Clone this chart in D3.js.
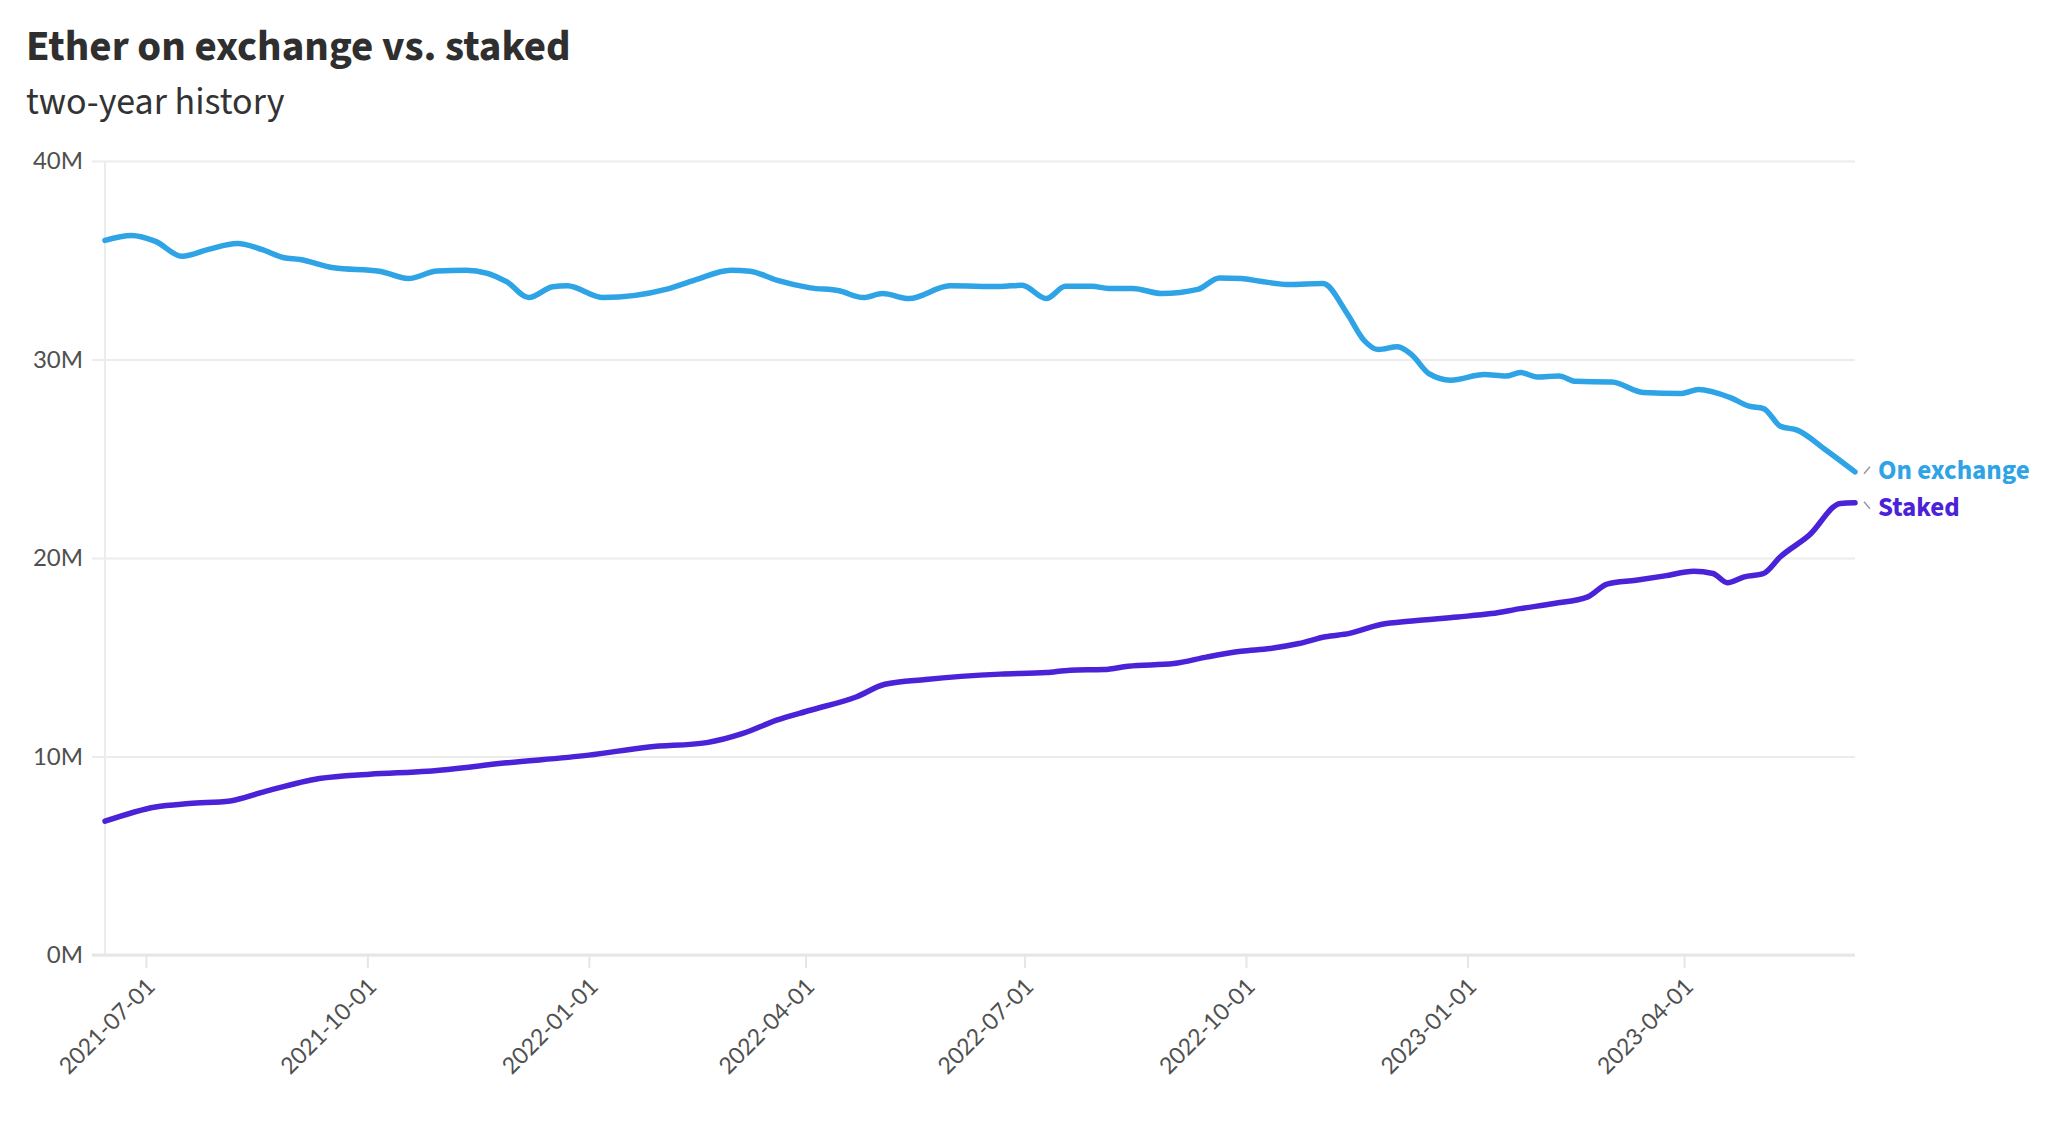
<!DOCTYPE html>
<html>
<head>
<meta charset="utf-8">
<script src="https://cdn.jsdelivr.net/npm/d3@7"></script>
<style>
  html, body { margin: 0; padding: 0; background: #fff; }
  svg { display: block; font-family: "Source Sans Pro", "Source Sans 3", Lato, sans-serif; }
</style>
</head>
<body>
<svg id="chart" width="2048" height="1132"></svg>
<script>
// ---- DATA ----
const titleText = "Ether on exchange vs. staked";
const subtitleText = "two-year history";
const seriesNames = ["On exchange", "Staked"];
const seriesColors = ["#2ea3e6", "#4a22d8"];

const exchangeDates = [
  "2021-06-14","2021-06-25","2021-07-05","2021-07-16","2021-07-27","2021-08-08","2021-08-18","2021-08-27",
  "2021-09-03","2021-09-17","2021-10-06","2021-10-18","2021-10-30","2021-11-11","2021-11-28","2021-12-07",
  "2021-12-17","2021-12-23","2022-01-07","2022-02-02","2022-02-14","2022-03-01","2022-03-09","2022-03-20",
  "2022-04-03","2022-04-15","2022-04-25","2022-05-03","2022-05-14","2022-05-31","2022-06-21","2022-06-30",
  "2022-07-10","2022-07-18","2022-07-29","2022-08-05","2022-08-15","2022-08-27","2022-09-11","2022-09-20",
  "2022-09-29","2022-10-07","2022-10-19","2022-11-02","2022-11-12","2022-11-19","2022-11-25","2022-12-03",
  "2022-12-09","2022-12-16","2022-12-25","2023-01-08","2023-01-17","2023-01-23","2023-01-30","2023-02-08",
  "2023-02-15","2023-03-02","2023-03-15","2023-03-31","2023-04-07","2023-04-20","2023-04-28","2023-05-04",
  "2023-05-11","2023-05-18","2023-05-30","2023-06-11"
];
const exchangeValues = [
  36.0, 36.25, 35.95, 35.2, 35.55, 35.84, 35.55, 35.14,
  35.04, 34.62, 34.45, 34.08, 34.46, 34.5, 33.91, 33.12,
  33.66, 33.71, 33.12, 33.53, 34.0, 34.5, 34.45, 34.0,
  33.61, 33.46, 33.12, 33.32, 33.07, 33.71, 33.68, 33.74,
  33.07, 33.69, 33.69, 33.58, 33.58, 33.32, 33.53, 34.11,
  34.08, 33.94, 33.78, 33.83, 32.32, 30.97, 30.5, 30.64,
  30.22, 29.29, 28.96, 29.24, 29.17, 29.34, 29.12, 29.17,
  28.9, 28.87, 28.34, 28.29, 28.49, 28.09, 27.65, 27.53,
  26.64, 26.44, 25.43, 24.34
];

const stakedDates = [
  "2021-06-14","2021-07-05","2021-07-19","2021-08-05","2021-08-19","2021-09-11","2021-10-02","2021-10-26",
  "2021-11-28","2022-01-01","2022-01-26","2022-02-19","2022-03-06","2022-03-20","2022-04-03","2022-04-22",
  "2022-05-04","2022-05-21","2022-06-21","2022-07-10","2022-07-20","2022-08-03","2022-08-13","2022-09-01",
  "2022-09-15","2022-09-29","2022-10-11","2022-10-23","2022-11-03","2022-11-13","2022-11-26","2022-12-09",
  "2022-12-28","2023-01-11","2023-01-23","2023-02-06","2023-02-20","2023-02-28","2023-03-12","2023-03-24",
  "2023-04-05","2023-04-13","2023-04-19","2023-04-26","2023-05-04","2023-05-11","2023-05-23","2023-06-05",
  "2023-06-11"
];
const stakedValues = [
  6.74, 7.46, 7.63, 7.76, 8.22, 8.89, 9.11, 9.26,
  9.68, 10.07, 10.48, 10.7, 11.16, 11.83, 12.33, 13.0,
  13.64, 13.88, 14.15, 14.23, 14.35, 14.38, 14.55, 14.68,
  15.02, 15.3, 15.44, 15.69, 16.03, 16.2, 16.65, 16.83,
  17.03, 17.2, 17.45, 17.71, 18.04, 18.68, 18.88, 19.1,
  19.33, 19.22, 18.75, 19.05, 19.22, 20.06, 21.15, 22.75,
  22.78
];

const yTickValues = [0, 10, 20, 30, 40];
const xTickLabels = ["2021-07-01","2021-10-01","2022-01-01","2022-04-01","2022-07-01","2022-10-01","2023-01-01","2023-04-01"];
const xDomain = ["2021-06-14", "2023-06-11"];
const yDomain = [0, 40];

// ---- DRAW ----
const parse = d3.utcParse("%Y-%m-%d");
const svg = d3.select("#chart");
svg.append("rect").attr("width", 2048).attr("height", 1132).attr("fill", "#fff");

const plot = { left: 105, right: 1855, top: 161, bottom: 955 };

const x = d3.scaleUtc().domain(xDomain.map(parse)).range([plot.left, plot.right]);
const y = d3.scaleLinear().domain(yDomain).range([plot.bottom, plot.top]);

// title
svg.append("text").attr("x", 26).attr("y", 60)
  .attr("font-size", 43).attr("font-weight", 700).attr("fill", "#2f2f2f")
  .text(titleText);
svg.append("text").attr("x", 26).attr("y", 114)
  .attr("font-size", 38).attr("font-weight", 400).attr("fill", "#333")
  .text(subtitleText);

// y grid + labels
const yAxis = svg.append("g").attr("transform", `translate(${plot.left},0)`)
  .call(d3.axisLeft(y).tickValues(yTickValues).tickFormat(d => d + "M")
    .tickSize(-(plot.right - plot.left)).tickPadding(10));
yAxis.select(".domain").remove();
yAxis.selectAll(".tick line").attr("stroke", "#ececec").attr("stroke-width", 2).attr("x1", -13);
yAxis.selectAll(".tick text").attr("font-size", 24).attr("fill", "#505050").attr("x", -22)
  .attr("font-family", "\"Source Sans Pro\", Lato, sans-serif");

// y axis vertical line
svg.append("line").attr("x1", plot.left).attr("x2", plot.left)
  .attr("y1", y(yDomain[1])).attr("y2", y(yDomain[0]))
  .attr("stroke", "#ececec").attr("stroke-width", 2);

// x axis
const xAxis = svg.append("g").attr("transform", `translate(0,${plot.bottom})`)
  .call(d3.axisBottom(x).tickValues(xTickLabels.map(parse)).tickFormat(d3.utcFormat("%Y-%m-%d"))
    .tickSize(13).tickPadding(0));
xAxis.select(".domain").attr("stroke", "#e6e6e6").attr("stroke-width", 3)
  .attr("d", `M${plot.left - 13},0H${plot.right}`);
xAxis.selectAll(".tick line").attr("stroke", "#e6e6e6").attr("stroke-width", 2);
xAxis.selectAll(".tick text")
  .attr("font-size", 23).attr("fill", "#505050")
  .attr("font-family", "\"Source Sans Pro\", Lato, sans-serif")
  .attr("text-anchor", "end")
  .attr("y", 0).attr("dy", 0)
  .attr("transform", "translate(10,33) rotate(-45)");

// lines
const lineGen = d3.line().x(d => x(d[0])).y(d => y(d[1])).curve(d3.curveMonotoneX);
const series = [
  { name: seriesNames[0], color: seriesColors[0], pts: exchangeDates.map((d, i) => [parse(d), exchangeValues[i]]), dy: -2 },
  { name: seriesNames[1], color: seriesColors[1], pts: stakedDates.map((d, i) => [parse(d), stakedValues[i]]), dy: 4 }
];
series.forEach(s => {
  svg.append("path").attr("d", lineGen(s.pts))
    .attr("fill", "none").attr("stroke", s.color).attr("stroke-width", 5.5)
    .attr("stroke-linejoin", "round").attr("stroke-linecap", "round");
  const last = s.pts[s.pts.length - 1];
  const ex = x(last[0]), ey = y(last[1]);
  const ly = ey + s.dy;
  svg.append("line").attr("x1", ex + 9).attr("y1", ey + (s.dy < 0 ? 2 : -1))
    .attr("x2", ex + 15).attr("y2", ly + (s.dy < 0 ? -3 : 2))
    .attr("stroke", "#999").attr("stroke-width", 1.5);
  svg.append("text").attr("x", ex + 23).attr("y", ly).attr("dy", "0.35em")
    .attr("font-size", 27).attr("font-weight", 700).attr("fill", s.color)
    .text(s.name);
});
</script>
</body>
</html>
